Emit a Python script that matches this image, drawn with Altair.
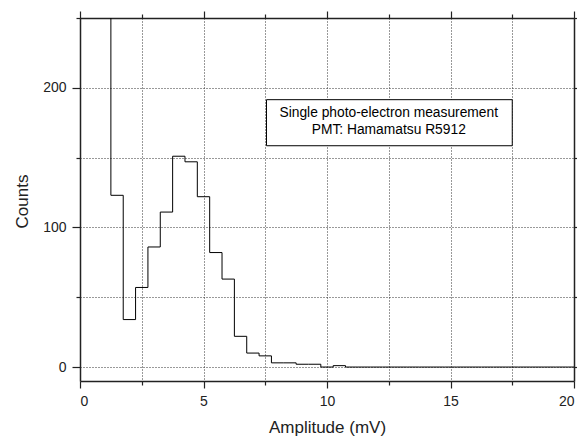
import altair as alt
import pandas as pd

# Histogram: left bin edges (bin width 0.5 mV) and counts; final point closes the last bin at 20
bin_left = [0.75, 1.25, 1.75, 2.25, 2.75, 3.25, 3.75, 4.25, 4.75, 5.25,
            5.75, 6.25, 6.75, 7.25, 7.75, 8.25, 8.75, 9.25, 9.75, 10.25,
            10.75, 11.25, 11.75, 12.25, 12.75, 13.25, 13.75, 14.25, 14.75, 15.25,
            15.75, 16.25, 16.75, 17.25, 17.75, 18.25, 18.75, 19.25, 19.75, 20.0]
counts = [380, 123, 34, 57, 86, 111, 151, 147, 122, 82,
          63, 22, 10, 8, 3, 3, 2, 2, 0, 1,
          0, 0, 0, 0, 0, 0, 0, 0, 0, 0,
          0, 0, 0, 0, 0, 0, 0, 0, 0, 0]

x_ticks = [0, 2.5, 5, 7.5, 10, 12.5, 15, 17.5, 20]
y_ticks = [0, 50, 100, 150, 200, 250]

note_lines = ["Single photo-electron measurement", "PMT: Hamamatsu R5912"]
note_x = [12.5, 12.5]
note_y = [182, 169.5]
box_x0, box_x1, box_y0, box_y1 = [7.55], [17.5], [158.5], [191.5]

FONT = "Liberation Sans"
INK = "#222222"

df = pd.DataFrame({"amp": bin_left, "cnt": counts})
notes = pd.DataFrame({"amp": note_x, "cnt": note_y, "txt": note_lines})
box = pd.DataFrame({"x0": box_x0, "x1": box_x1, "y0": box_y0, "y1": box_y1})

xscale = alt.Scale(domain=[0, 20], nice=False, zero=False)
yscale = alt.Scale(domain=[-10, 250], nice=False, zero=False)

x_major = {"condition": {"test": "datum.value % 5 === 0", "value": 7}, "value": 4}
y_major = {"condition": {"test": "datum.value % 100 === 0", "value": 8}, "value": 4}

common = dict(domainColor=INK, domainWidth=1.5, tickColor=INK, tickWidth=1.2,
              labelFont=FONT, labelFontSize=14, labelColor=INK,
              titleFont=FONT, titleFontSize=17, titleFontWeight="normal", titleColor=INK)

x_bottom = alt.Axis(values=x_ticks, orient="bottom",
                    labelExpr="datum.value % 5 === 0 ? format(datum.value, 'd') : ''",
                    tickSize=x_major, labelPadding=6,
                    grid=True, gridDash=[1, 2], gridColor="#333333", gridWidth=1,
                    title="Amplitude (mV)", titleY=46, titleBaseline="middle",
                    **common)
y_left = alt.Axis(values=y_ticks, orient="left",
                  labelExpr="datum.value % 100 === 0 ? format(datum.value, 'd') : ''",
                  tickSize=y_major, labelPadding=6,
                  grid=True, gridDash=[1, 2], gridColor="#333333", gridWidth=1,
                  title="Counts", titleX=-58, titleY=183, titleAngle=-90,
                  titleBaseline="middle", titleAlign="center",
                  **common)
x_top = alt.Axis(values=x_ticks, orient="top", labels=False, tickSize=x_major,
                 grid=False, title=None, domainColor=INK, domainWidth=1.5,
                 tickColor=INK, tickWidth=1.2)
y_right = alt.Axis(values=y_ticks, orient="right", labels=False, tickSize=y_major,
                   grid=False, title=None, domainColor=INK, domainWidth=1.5,
                   tickColor=INK, tickWidth=1.2)

steps = alt.Chart(df).mark_line(interpolate="step-after", color="black",
                                strokeWidth=1, clip=True).encode(
    x=alt.X("amp:Q", scale=xscale, axis=x_bottom),
    y=alt.Y("cnt:Q", scale=yscale, axis=y_left),
)

frame = alt.Chart(df).mark_line(opacity=0, clip=True).encode(
    x=alt.X("amp:Q", scale=xscale, axis=x_top),
    y=alt.Y("cnt:Q", scale=yscale, axis=y_right),
)

rect = alt.Chart(box).mark_rect(fill="white", stroke="black", strokeWidth=1).encode(
    x=alt.X("x0:Q", scale=xscale, axis=None),
    x2="x1:Q",
    y=alt.Y("y0:Q", scale=yscale, axis=None),
    y2="y1:Q",
)

text = alt.Chart(notes).mark_text(font=FONT, fontSize=13.8, color="black",
                                  align="center", baseline="middle").encode(
    x=alt.X("amp:Q", scale=xscale, axis=None),
    y=alt.Y("cnt:Q", scale=yscale, axis=None),
    text="txt:N",
)

chart = alt.layer(steps, frame, rect, text).resolve_axis(
    x="independent", y="independent"
).properties(
    width=494, height=363,
    autosize=alt.AutoSizeParams(type="none"),
    padding={"left": 80, "top": 18, "right": 3, "bottom": 58},
    background="white",
).configure_view(stroke=None)

chart.save("out.html", embed_options={"renderer": "svg", "actions": False})
